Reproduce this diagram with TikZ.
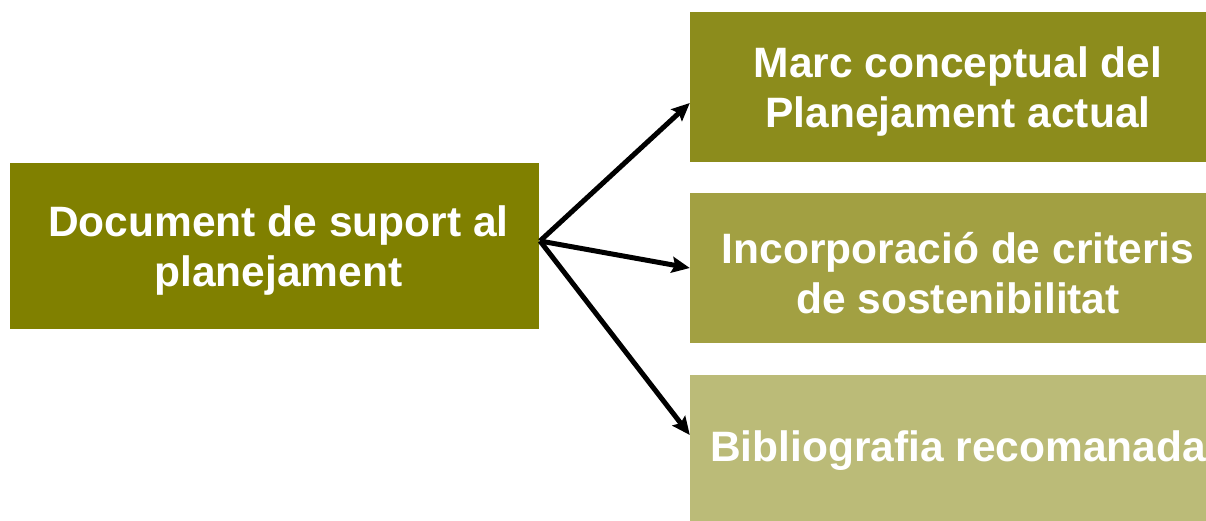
\documentclass[tikz,border=0pt]{standalone}
\usepackage{fontspec}
\setmainfont{Liberation Sans}
\usetikzlibrary{arrows.meta}
\definecolor{boxA}{HTML}{808000}
\definecolor{boxB}{HTML}{8C8C1C}
\definecolor{boxC}{HTML}{A2A042}
\definecolor{boxD}{HTML}{BBBB78}
\tikzset{
  panel/.style={rectangle, draw=none, inner sep=0pt},
  caption/.style={inner sep=0pt, text=white, align=center,
    font=\fontsize{42.5}{50}\selectfont\bfseries},
  link/.style={line width=5pt, -{Stealth[length=18pt,width=16pt,inset=3pt]}}
}
\begin{document}
\begin{tikzpicture}[x=1pt,y=-1pt]
\useasboundingbox (0,0) rectangle (1206,521);
\node[panel, fill=boxA, minimum width=529pt, minimum height=166pt] (src) at (274.5,246) {};
\node[panel, fill=boxB, minimum width=536pt, minimum height=150pt] (top) at (958,87) {};
\node[panel, fill=boxC, minimum width=536pt, minimum height=150pt] (mid) at (958,268) {};
\node[panel, fill=boxD, minimum width=536pt, minimum height=146pt] (bot) at (958,448) {};
\node[caption] (srcT) at ([xshift=4pt,yshift=-5pt]src.center) {Document de suport al\\planejament};
\node[caption] (topT) at ([yshift=-5pt]top.center) {Marc conceptual del\\Planejament actual};
\node[caption] (midT) at ([yshift=-5pt]mid.center) {Incorporació de criteris\\de sostenibilitat};
\node[caption] (botT) at ([yshift=-3pt]bot.center) {Bibliografia recomanada};
\coordinate (hub) at (540,241);
\draw[link] (hub) -- ([yshift=-16pt]top.west);
\draw[link] (hub) -- (mid.west);
\draw[link] (hub) -- ([yshift=13pt]bot.west);
\end{tikzpicture}
\end{document}
